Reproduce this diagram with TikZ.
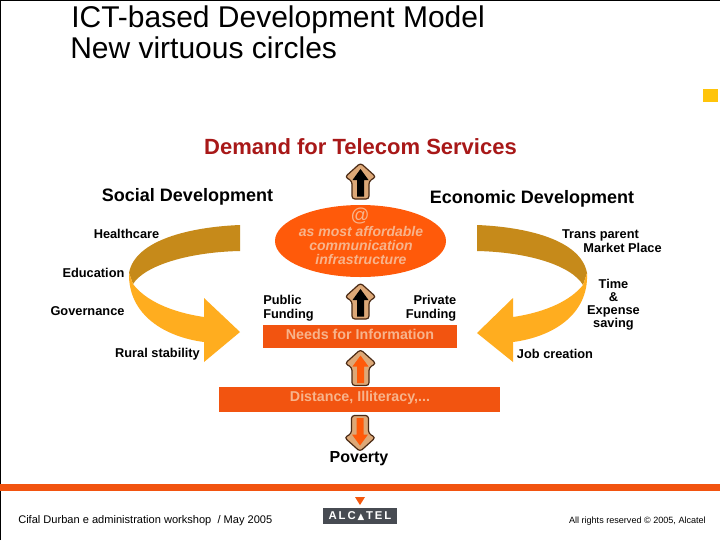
\documentclass[tikz,border=0pt]{standalone}
\usepackage{fontspec}
\setmainfont{Liberation Sans}
\definecolor{orangeA}{HTML}{FF5A0A}
\definecolor{barA}{HTML}{F25410}
\definecolor{darkC}{HTML}{C68A1A}
\definecolor{lightC}{HTML}{FFAD1F}
\definecolor{peach}{HTML}{DDA877}
\definecolor{edgeB}{HTML}{4A2A14}
\definecolor{paleT}{HTML}{F7B48C}
\definecolor{logoG}{HTML}{474B52}
\definecolor{corner}{HTML}{FFC40A}
\definecolor{redT}{HTML}{A81818}
\tikzset{
 x=0.75pt,y=-0.75pt,
 lbl/.style={font=\fontsize{9.6pt}{10.5pt}\selectfont\bfseries,text=black,inner sep=0pt,align=center},
 head/.style={font=\fontsize{13.5pt}{15pt}\selectfont\bfseries,text=black,inner sep=0pt},
 pale/.style={font=\fontsize{10.7pt}{11pt}\selectfont\bfseries,text=paleT,inner sep=0pt,align=center},
 ovaltext/.style={font=\fontsize{10.5pt}{10.5pt}\selectfont\bfseries\itshape,text=paleT,inner sep=0pt,align=center},
 fat/.style={draw=edgeB,line width=0.9pt,fill=peach,rounded corners=2.2pt},
}
\newcommand{\fatarrow}[4]{% x, y centre, rotation, inner colour
 \begin{scope}[shift={(#1,#2)},rotate=#3]
  \path[fat] (-8.5,18) -- (-8.5,0) -- (-15.5,-4) -- (0,-18) -- (15.5,-4) -- (8.5,0) -- (8.5,18) -- cycle;
  \path[fill=#4] (-3.5,15.5) -- (-3.5,-1) -- (-8,-1) -- (0,-12) -- (8,-1) -- (3.5,-1) -- (3.5,15.5) -- cycle;
 \end{scope}}
\begin{document}
\begin{tikzpicture}
\useasboundingbox (0,0) rectangle (720,540);
\fill[white] (0,0) rectangle (720,540);
\draw[black,line width=0.8pt] (0.5,540) -- (0.5,0.5) -- (720,0.5);
\node[anchor=base west,inner sep=0pt,font=\fontsize{22.5pt}{24pt}\selectfont,text=black] (t1) at (71,27) {ICT-based Development Model};
\node[anchor=base west,inner sep=0pt,font=\fontsize{22.5pt}{24pt}\selectfont,text=black] (t2) at (70,58.5) {New virtuous circles};
\fill[corner] (703,89) rectangle (718,102);
\node[inner sep=0pt,font=\fontsize{16.5pt}{17pt}\selectfont\bfseries,text=redT] (dem) at (360.5,146.5) {Demand for Telecom Services};
\node[head] (soc) at (187.5,196.5) {Social Development};
\node[head] (eco) at (532,198.5) {Economic Development};
% left swoosh
\path[fill=darkC] (240,225) .. controls (190,227) and (135,240) .. (129,273) -- (133,284) .. controls (145,265) and (190,252) .. (240,251) -- cycle;
\path[fill=lightC] (129,273) .. controls (128,315) and (165,337) .. (204,342) -- (204,362) -- (240,332) -- (204,298) -- (204,317) .. controls (170,312) and (145,300) .. (133,284) -- cycle;
% right swoosh
\path[fill=darkC] (477,225) .. controls (527,227) and (581,240) .. (587,273) -- (583,285) .. controls (571,265) and (527,252) .. (477,251) -- cycle;
\path[fill=lightC] (587,273) .. controls (589,315) and (552,337) .. (513,342) -- (513,362) -- (477,333) -- (513,298) -- (513,317) .. controls (547,312) and (571,300) .. (583,285) -- cycle;
% oval
\fill[orangeA] (360.5,241) ellipse [x radius=85.5, y radius=36];
\node[font=\fontsize{14pt}{14pt}\selectfont,text=paleT,inner sep=0pt] (at) at (360,216) {@};
\node[ovaltext] (ov) at (361,245.5) {as most affordable\\communication\\infrastructure};
% boxes
\fill[barA] (263,325) rectangle (457,348);
\node[pale] (need) at (360,334) {Needs for Information};
\fill[barA] (219,387) rectangle (500,412);
\node[pale] (dist) at (360,397.5) {Distance, Illiteracy,...};
% labels
\node[lbl] (hc) at (126.5,233.5) {Healthcare};
\node[lbl] (ed) at (93.5,272.5) {Education};
\node[lbl] (go) at (87.5,311.5) {Governance};
\node[lbl] (ru) at (157.5,354.5) {Rural stability};
\node[lbl,align=left] (pu) at (288.5,308) {Public\\Funding};
\node[lbl,align=right] (pr) at (431,308.5) {Private\\Funding};
\node[lbl] (tr) at (600.5,235) {Trans parent};
\node[lbl] (mp) at (622.5,247.5) {Market Place};
\node[lbl,font=\fontsize{9.6pt}{9.8pt}\selectfont\bfseries] (ti) at (613.5,305) {Time\\\&\\Expense\\saving};
\node[lbl] (jo) at (555,354) {Job creation};
\node[lbl,font=\fontsize{12pt}{12pt}\selectfont\bfseries] (po) at (359,459) {Poverty};
% arrows
\fatarrow{360.5}{181}{0}{black}
\fatarrow{360.5}{301}{0}{black}
\fatarrow{360.5}{367.5}{0}{orangeA}
\fatarrow{360}{433.5}{180}{orangeA}
% footer
\fill[barA] (0,484) rectangle (720,491);
\fill[barA!90!orange] (355,497) -- (365,497) -- (360,505) -- cycle;
\fill[logoG] (323,508) rectangle (397,523.5);
\node[inner sep=0pt,font=\fontsize{8.5pt}{9pt}\selectfont\bfseries,text=white] (al) at (360,516) {A\,L\,C\,{\fontspec{DejaVu Sans}\fontsize{6.5pt}{9pt}\selectfont ▲}\,T\,E\,L};
\node[anchor=west,inner sep=0pt,font=\fontsize{8.3pt}{9pt}\selectfont,text=black] (cf) at (18,521) {Cifal Durban e administration workshop \ / May 2005};
\node[anchor=east,inner sep=0pt,font=\fontsize{6.8pt}{8pt}\selectfont,text=black] (rr) at (706,521) {All rights reserved © 2005, Alcatel};
\end{tikzpicture}
\end{document}
